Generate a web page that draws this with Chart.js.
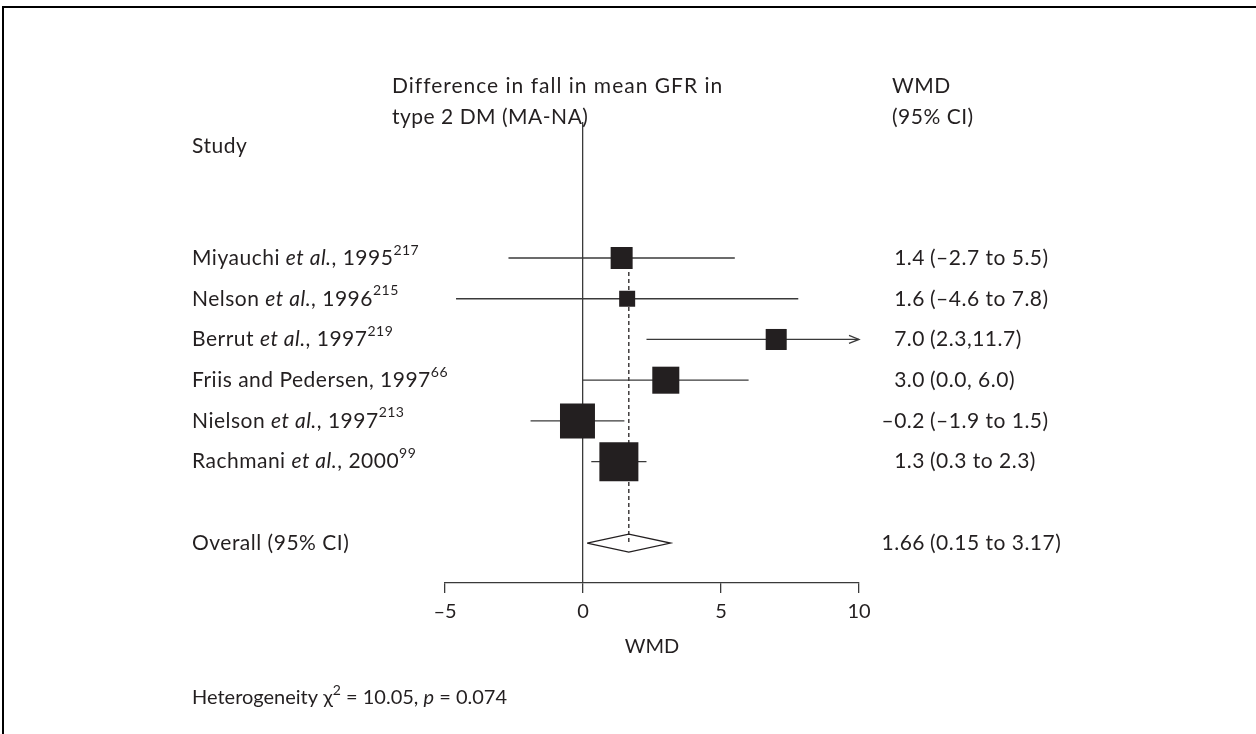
<!DOCTYPE html>
<html>
<head>
<meta charset="utf-8">
<title>Forest plot – fall in mean GFR in type 2 DM</title>
<script src="https://cdn.jsdelivr.net/npm/chart.js@4.4.1/dist/chart.umd.min.js"></script>
<style>
  html, body { margin: 0; padding: 0; background: #fff; }
  canvas { display: block; }
</style>
</head>
<body>
<canvas id="forest" width="1256" height="734"></canvas>
<script>
// study data
const studyNames = [
  "Miyauchi et al., 1995",
  "Nelson et al., 1996",
  "Berrut et al., 1997",
  "Friis and Pedersen, 1997",
  "Nielson et al., 1997",
  "Rachmani et al., 2000",
];
const studyRefs = ["217", "215", "219", "66", "213", "99"];
const wmd = [1.4, 1.6, 7.0, 3.0, -0.2, 1.3];
const lower = [-2.7, -4.6, 2.3, 0.0, -1.9, 0.3];
const upper = [5.5, 7.8, 11.7, 6.0, 1.5, 2.3];
const weights = [10.4, 5.5, 9.5, 15.7, 26.3, 32.7]; // % weight (box area)
const ciLabels = [
  "1.4 (–2.7 to 5.5)",
  "1.6 (–4.6 to 7.8)",
  "7.0 (2.3,11.7)",
  "3.0 (0.0, 6.0)",
  "–0.2 (–1.9 to 1.5)",
  "1.3 (0.3 to 2.3)",
];
const overallLabel = "Overall (95% CI)";
const overallWmd = 1.66;
const overallCI = [0.15, 3.17];
const overallText = "1.66 (0.15 to 3.17)";
const xTicks = [-5, 0, 5, 10];

const X_MIN = -5, X_MAX = 10;
const OVERALL_ROW = studyNames.length + 2;
const INK = "#231f20";
const LINE = "#3a3a3a";
const FONT = "Lato, 'Open Sans', sans-serif";
const FS = 21;

const rows = studyNames.map((_, i) => i + 1);

// one line dataset per confidence interval, clipped at the axis end
const ciSets = rows.map((r, i) => ({
  type: "scatter",
  showLine: true,
  data: [
    { x: Math.max(lower[i], X_MIN), y: r },
    { x: Math.min(upper[i], X_MAX), y: r },
  ],
  borderColor: LINE,
  borderWidth: 1.3,
  pointRadius: 0,
  order: 2,
}));

const boxSide = (w) => 6.82 * Math.sqrt(w);

const diamondH = 0.22;

const forestText = {
  id: "forestText",
  afterDraw(chart) {
    const { ctx } = chart;
    const xs = chart.scales.x;
    const ys = chart.scales.y;

    const setFont = (style, size) => {
      ctx.font = `${style} ${size}px ${FONT}`;
    };
    // draws a run of text parts: {t, i (italic), sup}
    const rich = (x, y, parts, size = FS, spacing = 0.5) => {
      ctx.textAlign = "left";
      ctx.textBaseline = "middle";
      ctx.fillStyle = INK;
      ctx.letterSpacing = spacing + "px";
      let cx = x;
      parts.forEach((p) => {
        setFont(p.i ? "italic" : "normal", p.sup ? 14 : size);
        ctx.fillText(p.t, cx, p.sup ? y - 8 : y);
        cx += ctx.measureText(p.t).width;
      });
      ctx.letterSpacing = "0px";
    };
    const studyParts = (name, ref) => {
      const k = name.indexOf("et al.");
      const parts = k < 0
        ? [{ t: name }]
        : [{ t: name.slice(0, k) }, { t: "et al.", i: true }, { t: name.slice(k + 6) }];
      parts.push({ t: ref, sup: true });
      return parts;
    };
    const ciText = (label, y) => {
      const sp = label.indexOf(" ");
      setFont("normal", FS);
      ctx.letterSpacing = "0.5px";
      ctx.fillStyle = INK;
      ctx.textBaseline = "middle";
      ctx.textAlign = "right";
      ctx.fillText(label.slice(0, sp), 925, y);
      ctx.textAlign = "left";
      ctx.fillText(label.slice(sp + 1), 930, y);
      ctx.letterSpacing = "0px";
    };

    ctx.save();
    // frame
    ctx.strokeStyle = "#000";
    ctx.lineWidth = 2;
    ctx.beginPath();
    ctx.moveTo(3, 734);
    ctx.lineTo(3, 7);
    ctx.lineTo(1256, 7);
    ctx.stroke();

    // headers
    rich(392, 86, [{ t: "Difference in fall in mean GFR in" }], FS, 1.0);
    rich(392, 117, [{ t: "type 2 DM (MA-NA)" }]);
    rich(892, 86, [{ t: "WMD" }]);
    rich(892, 117, [{ t: "(95% CI)" }]);
    rich(192, 146, [{ t: "Study" }]);

    rows.forEach((r, i) => {
      const y = ys.getPixelForValue(r);
      rich(192, y, studyParts(studyNames[i], studyRefs[i]));
      ciText(ciLabels[i], y);
      // arrow where the interval runs off the axis
      if (upper[i] > X_MAX) {
        const ax = xs.getPixelForValue(X_MAX);
        ctx.strokeStyle = LINE;
        ctx.lineWidth = 1.3;
        ctx.beginPath();
        ctx.moveTo(ax - 10, y - 4);
        ctx.lineTo(ax, y);
        ctx.lineTo(ax - 10, y + 4);
        ctx.stroke();
      }
    });

    const yo = ys.getPixelForValue(OVERALL_ROW);
    rich(192, yo, [{ t: overallLabel }]);
    ciText(overallText, yo);

    rich(192, 698, [
      { t: "Heterogeneity " },
      { t: "χ" },
      { t: "2", sup: true },
      { t: " = 10.05, " },
      { t: "p", i: true },
      { t: " = 0.074" },
    ], 20, 0);
    ctx.restore();
  },
};

new Chart(document.getElementById("forest"), {
  type: "scatter",
  data: {
    datasets: [
      {
        // study boxes
        data: rows.map((r, i) => ({ x: wmd[i], y: r })),
        pointStyle: "rect",
        pointRadius: weights.map((w) => boxSide(w) / Math.SQRT2),
        pointHoverRadius: weights.map((w) => boxSide(w) / Math.SQRT2),
        backgroundColor: INK,
        borderWidth: 0,
        order: 0,
      },
      ...ciSets,
      {
        // overall estimate reference line
        showLine: true,
        data: [
          { x: overallWmd, y: 1 },
          { x: overallWmd, y: OVERALL_ROW },
        ],
        borderColor: INK,
        borderWidth: 1.3,
        borderDash: [4, 3],
        pointRadius: 0,
        order: 3,
      },
      {
        // pooled diamond
        showLine: true,
        data: [
          { x: overallCI[0], y: OVERALL_ROW },
          { x: overallWmd, y: OVERALL_ROW - diamondH },
          { x: overallCI[1], y: OVERALL_ROW },
          { x: overallWmd, y: OVERALL_ROW + diamondH },
          { x: overallCI[0], y: OVERALL_ROW },
        ],
        borderColor: INK,
        borderWidth: 1.3,
        pointRadius: 0,
        fill: false,
        tension: 0,
        order: 1,
      },
    ],
  },
  options: {
    responsive: false,
    animation: false,
    events: [],
    layout: { padding: { left: 445, right: 397, top: 122, bottom: 75 } },
    plugins: {
      legend: { display: false },
      tooltip: { enabled: false },
    },
    scales: {
      x: {
        type: "linear",
        min: X_MIN,
        max: X_MAX,
        afterBuildTicks: (s) => {
          s.ticks = xTicks.map((v) => ({ value: v }));
        },
        afterFit: (s) => {
          s.height = 76;
        },
        ticks: {
          color: INK,
          padding: 7,
          font: { family: FONT, size: 20 },
          callback: (v) => (v < 0 ? "–" + Math.abs(v) : String(v)),
        },
        grid: {
          color: (c) => (c.tick && c.tick.value === 0 ? LINE : "rgba(0,0,0,0)"),
          lineWidth: 1.3,
          tickColor: LINE,
          tickLength: 10,
        },
        border: { color: LINE, width: 1.3 },
        title: {
          display: true,
          text: "WMD",
          color: INK,
          font: { family: FONT, size: 20 },
          padding: { top: 0, bottom: 0 },
        },
      },
      y: {
        type: "linear",
        display: false,
        reverse: true,
        min: -2.34,
        max: 8.98,
      },
    },
  },
  plugins: [forestText],
});
</script>
</body>
</html>
